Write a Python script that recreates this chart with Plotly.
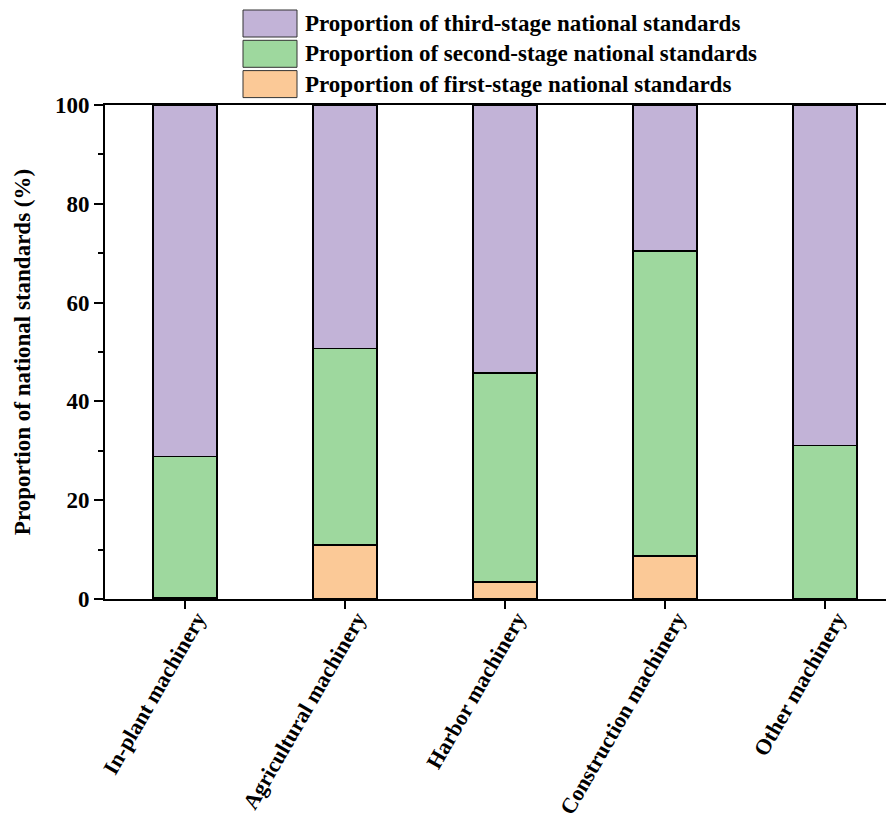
import plotly.graph_objects as go

categories = ["In-plant machinery", "Agricultural machinery", "Harbor machinery",
              "Construction machinery", "Other machinery"]
first_stage = [0.3, 10.9, 3.4, 8.7, 0.0]
second_stage = [28.5, 39.8, 42.3, 61.7, 31.1]
third_stage = [71.2, 49.3, 54.3, 29.6, 68.9]
series_names = ["Proportion of first-stage national standards",
                "Proportion of second-stage national standards",
                "Proportion of third-stage national standards"]
y_ticks = [0, 20, 40, 60, 80, 100]

colors = ["#FBC997", "#9ED89E", "#C2B3D7"]
FONT = "Liberation Serif"
FS = 23

fig = go.Figure()
for name, vals, col in zip(series_names, [first_stage, second_stage, third_stage], colors):
    fig.add_trace(go.Bar(
        x=list(range(len(categories))), y=vals, name=name,
        marker=dict(color=col, line=dict(color="black", width=1.5)),
        width=0.4, showlegend=False))

# custom legend (top to bottom: third, second, first)
legend_rows = [(series_names[2], colors[2]), (series_names[1], colors[1]), (series_names[0], colors[0])]
for i, (name, col) in enumerate(legend_rows):
    top = 10 + i * 30.3
    fig.add_shape(type="rect", xref="paper", yref="paper",
                  x0=(243 - 105) / 789, x1=(297 - 105) / 789,
                  y0=1 + (105 - (top + 27)) / 494, y1=1 + (105 - top) / 494,
                  fillcolor=col, line=dict(color="#333333", width=1))
    fig.add_annotation(xref="paper", yref="paper", x=(303 - 105) / 789,
                       y=1 + (105 - (top + 13.5)) / 494, text="<b>%s</b>" % name,
                       showarrow=False, xanchor="left", yanchor="middle",
                       font=dict(family=FONT, size=FS, color="black"))

# the page body has an 8px margin, so offsets are compensated
fig.update_layout(
    width=894, height=814,
    margin=dict(l=97, r=8, t=97, b=223, autoexpand=False),
    plot_bgcolor="white", paper_bgcolor="white",
    barmode="stack",
    font=dict(family=FONT, size=FS, color="black"),
    xaxis=dict(range=[-0.5, 4.431], tickvals=list(range(len(categories))),
               ticktext=["<b>%s</b>" % c for c in categories], tickangle=-60,
               ticks="outside", ticklen=8, tickwidth=2, tickcolor="black",
               ticklabelshift=12, ticklabelstandoff=-12,
               showline=True, linecolor="black", linewidth=2, mirror=True,
               showgrid=False, zeroline=False, automargin=False,
               tickfont=dict(family=FONT, size=22, color="black")),
    yaxis=dict(range=[0, 100], tickvals=y_ticks,
               ticktext=["<b>%d</b>" % v for v in y_ticks],
               ticks="outside", ticklen=9, tickwidth=2, tickcolor="black",
               minor=dict(dtick=10, ticks="outside", ticklen=5, tickwidth=2, tickcolor="black"),
               showline=True, linecolor="black", linewidth=2,
               showgrid=False, zeroline=False, automargin=False,
               title=dict(text="<b>Proportion of national standards (%)</b>",
                          font=dict(family=FONT, size=FS, color="black"), standoff=18),
               tickfont=dict(family=FONT, size=FS, color="black")),
)

fig.write_html("out.html")
